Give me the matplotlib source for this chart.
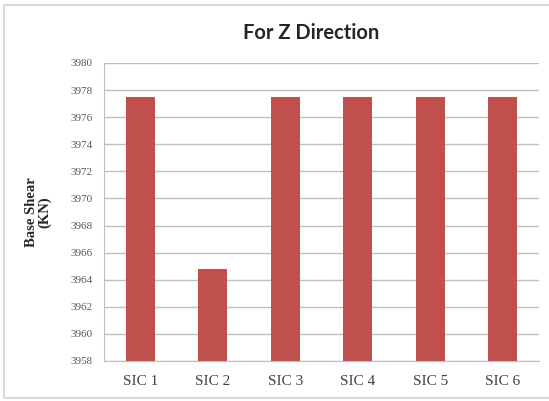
import matplotlib
matplotlib.use('Agg')
import matplotlib.pyplot as plt
from matplotlib.patches import Rectangle

# Base shear for each SIC case (Z direction)
cases = ["SIC 1", "SIC 2", "SIC 3", "SIC 4", "SIC 5", "SIC 6"]
base_shear = [3977.5, 3964.8, 3977.5, 3977.5, 3977.5, 3977.5]
y_ticks = list(range(3958, 3981, 2))

BAR_COLOR = '#C0504D'
GRID_COLOR = '#BFBFBF'

fig = plt.figure(figsize=(5.49, 4.01), dpi=100)
ax = fig.add_axes([104 / 549, 1 - 361 / 401, 435 / 549, 298 / 401])

x = range(len(cases))
ax.bar(x, base_shear, width=0.40, color=BAR_COLOR, zorder=3)

ax.set_ylim(3958, 3980)
ax.set_xlim(-0.5, len(cases) - 0.5)
ax.set_yticks(y_ticks)
ax.set_yticklabels([str(v) for v in y_ticks], fontsize=8,
                   family='Liberation Serif', color='#595959')
ax.set_xticks(list(x))
ax.set_xticklabels(cases, fontsize=11, family='Liberation Serif',
                   color='#404040')
ax.tick_params(axis='y', length=0, pad=8)
ax.tick_params(axis='x', length=0, pad=10)

ax.grid(axis='y', color=GRID_COLOR, linewidth=1.0, zorder=0)
for side in ('top', 'right'):
    ax.spines[side].set_visible(False)
ax.spines['left'].set_color(GRID_COLOR)
ax.spines['bottom'].set_color(GRID_COLOR)

ax.set_ylabel("Base Shear\n(KN)", fontsize=10.5, family='Liberation Serif',
              fontweight='bold', color='#262626', labelpad=14,
              linespacing=1.0)

fig.text(311 / 549, 1 - 33 / 401, "For Z Direction", fontsize=14.5,
         fontweight='bold', family='Lato', color='#262626',
         ha='center', va='center')

# outer chart frame
fig.patches.append(Rectangle((4 / 549, 1 - 398 / 401), 560 / 549, 393 / 401,
                             transform=fig.transFigure, fill=False,
                             edgecolor='#D9D9D9', linewidth=1.5))

fig.savefig("out.png", dpi=100)
